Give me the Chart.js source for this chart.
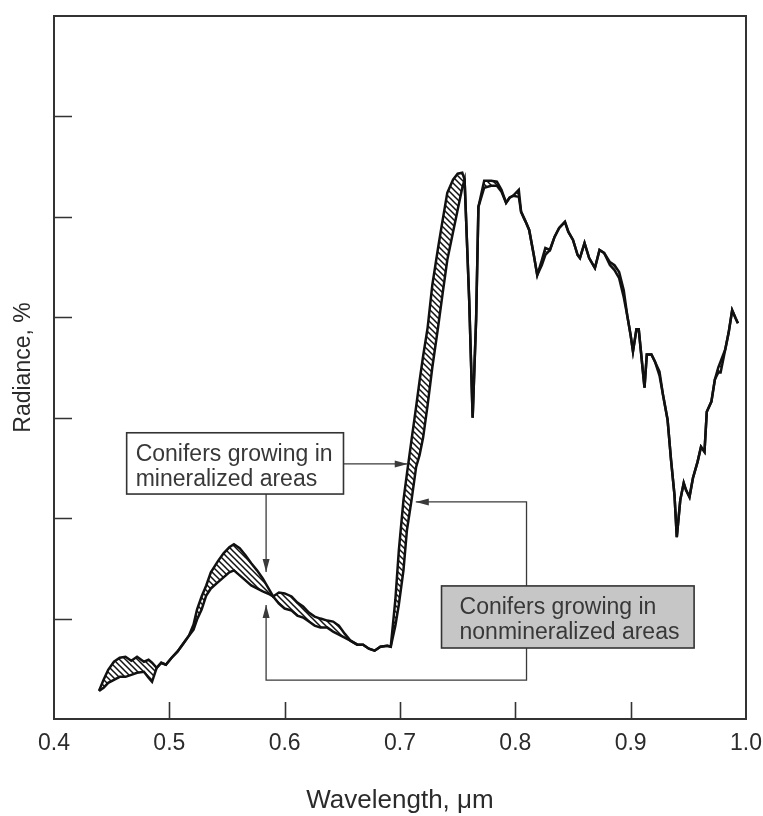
<!DOCTYPE html>
<html>
<head>
<meta charset="utf-8">
<script src="https://cdn.jsdelivr.net/npm/chart.js@4.4.1/dist/chart.umd.min.js"></script>
<style>
  html, body { margin: 0; padding: 0; background: #fff; }
  canvas { display: block; }
</style>
</head>
<body>
<canvas id="spectrum" width="763" height="816"></canvas>
<script>
// wavelength in µm, radiance in plot units (one unit per inner tick)
const wavelength = [
  0.439, 0.443, 0.447, 0.452, 0.457, 0.462, 0.467, 0.472, 0.478, 0.482,
  0.485, 0.489, 0.493, 0.497, 0.502, 0.507, 0.512, 0.517, 0.521, 0.524,
  0.528, 0.532, 0.536, 0.542, 0.547, 0.552, 0.556, 0.561, 0.566, 0.571,
  0.576, 0.581, 0.587, 0.590, 0.595, 0.600, 0.606, 0.611, 0.616, 0.621,
  0.626, 0.631, 0.637, 0.642, 0.647, 0.652, 0.657, 0.663, 0.668, 0.673,
  0.678, 0.683, 0.689, 0.692, 0.696, 0.699, 0.703, 0.706, 0.710, 0.714,
  0.717, 0.720, 0.724, 0.728, 0.733, 0.737, 0.741, 0.746, 0.750, 0.754,
  0.756, 0.760, 0.763, 0.766, 0.768, 0.773, 0.779, 0.784, 0.788, 0.792,
  0.795, 0.798, 0.803, 0.805, 0.809, 0.812, 0.816, 0.819, 0.823, 0.826,
  0.830, 0.834, 0.838, 0.843, 0.846, 0.850, 0.854, 0.856, 0.860, 0.864,
  0.869, 0.873, 0.877, 0.882, 0.886, 0.890, 0.894, 0.897, 0.900, 0.902,
  0.905, 0.907, 0.910, 0.912, 0.914, 0.918, 0.921, 0.925, 0.928, 0.932,
  0.935, 0.938, 0.940, 0.943, 0.946, 0.948, 0.951, 0.954, 0.958, 0.961,
  0.964, 0.966, 0.970, 0.973, 0.976, 0.978, 0.982, 0.985, 0.988, 0.991,
  0.993,
]
const mineralized = [
  0.28, 0.39, 0.49, 0.57, 0.61, 0.62, 0.58, 0.62, 0.57, 0.59,
  0.56, 0.51, 0.56, 0.54, 0.61, 0.67, 0.75, 0.83, 0.94, 1.09,
  1.22, 1.33, 1.46, 1.57, 1.65, 1.71, 1.74, 1.70, 1.63, 1.55,
  1.48, 1.40, 1.28, 1.22, 1.26, 1.25, 1.22, 1.16, 1.12, 1.06,
  1.02, 1.00, 0.98, 0.97, 0.93, 0.85, 0.78, 0.74, 0.74, 0.70,
  0.68, 0.72, 0.73, 0.72, 1.19, 1.68, 2.18, 2.44, 2.78, 3.11,
  3.37, 3.61, 3.90, 4.32, 4.69, 4.97, 5.24, 5.37, 5.43, 5.44,
  5.37, 4.17, 3.00, 3.98, 5.10, 5.36, 5.36, 5.35, 5.27, 5.14,
  5.19, 5.21, 5.27, 5.05, 4.95, 4.87, 4.62, 4.42, 4.57, 4.69,
  4.67, 4.80, 4.89, 4.95, 4.85, 4.77, 4.62, 4.59, 4.74, 4.59,
  4.49, 4.67, 4.64, 4.55, 4.52, 4.45, 4.27, 4.02, 3.82, 3.66,
  3.88, 3.88, 3.53, 3.30, 3.63, 3.63, 3.56, 3.46, 3.23, 2.98,
  2.58, 2.23, 1.81, 2.18, 2.35, 2.28, 2.21, 2.40, 2.56, 2.71,
  2.66, 3.06, 3.16, 3.38, 3.50, 3.56, 3.68, 3.85, 4.07, 3.99,
  3.94,
]
const nonmineralized = [
  0.28, 0.31, 0.36, 0.39, 0.42, 0.42, 0.44, 0.46, 0.47, 0.41,
  0.37, 0.51, 0.56, 0.54, 0.61, 0.67, 0.75, 0.83, 0.89, 0.99,
  1.09, 1.23, 1.30, 1.36, 1.41, 1.46, 1.48, 1.43, 1.38, 1.33,
  1.30, 1.27, 1.24, 1.22, 1.15, 1.10, 1.08, 1.03, 1.01, 0.97,
  0.93, 0.91, 0.91, 0.87, 0.84, 0.81, 0.78, 0.74, 0.74, 0.70,
  0.68, 0.72, 0.73, 0.72, 0.93, 1.14, 1.48, 1.88, 2.18, 2.51,
  2.63, 2.80, 3.13, 3.50, 3.90, 4.24, 4.57, 4.85, 5.07, 5.29,
  5.37, 4.17, 3.00, 3.98, 5.10, 5.29, 5.31, 5.31, 5.25, 5.14,
  5.19, 5.21, 5.20, 5.05, 4.95, 4.87, 4.62, 4.42, 4.52, 4.62,
  4.67, 4.80, 4.89, 4.95, 4.85, 4.77, 4.62, 4.59, 4.74, 4.59,
  4.49, 4.67, 4.64, 4.52, 4.47, 4.39, 4.20, 4.02, 3.82, 3.66,
  3.88, 3.88, 3.53, 3.30, 3.63, 3.63, 3.56, 3.42, 3.23, 2.98,
  2.58, 2.23, 1.81, 2.18, 2.35, 2.28, 2.21, 2.40, 2.56, 2.71,
  2.66, 3.06, 3.16, 3.38, 3.45, 3.45, 3.68, 3.85, 4.07, 3.99,
  3.94,
]
const xTicks = [0.4, 0.5, 0.6, 0.7, 0.8, 0.9, 1.0]
const yTicks = [1, 2, 3, 4, 5, 6]

const FONT = `"Liberation Sans", Arial, sans-serif`
const INK = `#2b2b2b`

// diagonal hatching for the gap between the two spectra
function hatch() {
  const c = document.createElement(`canvas`)
  c.width = c.height = 6
  const g = c.getContext(`2d`)
  g.fillStyle = `#fff`
  g.fillRect(0, 0, 6, 6)
  g.strokeStyle = `#111`
  g.lineWidth = 1.5
  g.beginPath()
  g.moveTo(-1, -1); g.lineTo(7, 7)
  g.moveTo(-1, 5); g.lineTo(1, 7)
  g.moveTo(5, -1); g.lineTo(7, 1)
  g.stroke()
  return g.createPattern(c, `repeat`)
}

// callout boxes and arrows, placed in data units
const notes = {
  boxes: [
    { x0: 0.463, x1: 0.651, y0: 2.85, y1: 2.24, fill: `#fff`, pad: 9,
      lines: [`Conifers growing in`, `mineralized areas`] },
    { x0: 0.736, x1: 0.955, y0: 1.325, y1: 0.707, fill: `#c6c6c6`, pad: 18,
      lines: [`Conifers growing in`, `nonmineralized areas`] },
  ],
  arrows: [
    [[0.651, 2.54], [0.7067, 2.54]],
    [[0.5839, 2.24], [0.5839, 1.464]],
    [[0.8097, 1.325], [0.8097, 2.161], [0.7137, 2.161]],
    [[0.8097, 0.707], [0.8097, 0.388], [0.5839, 0.388], [0.5839, 1.135]],
  ],
}

const near = (a, b) => Math.abs(a - b) < 1e-6

const frame = {
  id: `frame`,
  afterDatasetsDraw(chart) {
    const { ctx, chartArea: a, scales: { x, y } } = chart
    ctx.save()
    ctx.strokeStyle = `#333`
    ctx.lineWidth = 2
    ctx.strokeRect(a.left, a.top, a.right - a.left, a.bottom - a.top)

    // inward tick marks
    ctx.lineWidth = 1.6
    ctx.beginPath()
    xTicks.forEach((v) => {
      if (near(v, x.min) || near(v, x.max)) return
      const p = Math.round(x.getPixelForValue(v)) + 0.5
      ctx.moveTo(p, a.bottom); ctx.lineTo(p, a.bottom - 17)
    })
    yTicks.forEach((v) => {
      const p = Math.round(y.getPixelForValue(v)) + 0.5
      ctx.moveTo(a.left, p); ctx.lineTo(a.left + 18, p)
    })
    ctx.stroke()

    // arrows
    ctx.strokeStyle = `#3a3a3a`
    ctx.fillStyle = `#3a3a3a`
    ctx.lineWidth = 1.3
    notes.arrows.forEach((path) => {
      const pts = path.map(([vx, vy]) => [x.getPixelForValue(vx), y.getPixelForValue(vy)])
      ctx.beginPath()
      pts.forEach(([px, py], i) => (i ? ctx.lineTo(px, py) : ctx.moveTo(px, py)))
      ctx.stroke()
      const [tx, ty] = pts[pts.length - 1]
      const [sx, sy] = pts[pts.length - 2]
      const len = Math.hypot(tx - sx, ty - sy)
      const ux = (tx - sx) / len, uy = (ty - sy) / len
      ctx.beginPath()
      ctx.moveTo(tx, ty)
      ctx.lineTo(tx - ux * 13 - uy * 3.5, ty - uy * 13 + ux * 3.5)
      ctx.lineTo(tx - ux * 13 + uy * 3.5, ty - uy * 13 - ux * 3.5)
      ctx.closePath()
      ctx.fill()
    })

    // boxes with text
    notes.boxes.forEach((b) => {
      const l = x.getPixelForValue(b.x0), r = x.getPixelForValue(b.x1)
      const t = y.getPixelForValue(b.y0), btm = y.getPixelForValue(b.y1)
      ctx.fillStyle = b.fill
      ctx.fillRect(l, t, r - l, btm - t)
      ctx.strokeStyle = `#333`
      ctx.lineWidth = 1.6
      ctx.strokeRect(l, t, r - l, btm - t)
      ctx.fillStyle = `#383838`
      ctx.font = `23px ${FONT}`
      ctx.textBaseline = `alphabetic`
      ctx.textAlign = `left`
      b.lines.forEach((s, i) => ctx.fillText(s, l + b.pad, t + 28 + i * 25))
    })
    ctx.restore()
  },
}

Chart.defaults.font.family = FONT
Chart.defaults.color = INK

const line = (label, values) => ({
  label,
  data: wavelength.map((w, i) => ({ x: w, y: values[i] })),
  borderColor: `#111`,
  borderWidth: 2.5,
  pointRadius: 0,
  tension: 0,
})

new Chart(document.querySelector(`#spectrum`), {
  type: `line`,
  data: {
    datasets: [
      { ...line(`Mineralized`, mineralized), fill: `+1`, backgroundColor: hatch() },
      { ...line(`Nonmineralized`, nonmineralized), fill: false },
    ],
  },
  options: {
    responsive: false,
    animation: false,
    layout: { padding: { top: 16, right: 17, left: 0, bottom: 0 } },
    scales: {
      x: {
        type: `linear`,
        min: 0.4,
        max: 1.0,
        afterFit: (s) => {
          s.height = 97
          // the outer labels may overhang; let the layout padding handle it
          s.paddingLeft = 0
          s.paddingRight = 0
        },
        afterBuildTicks: (s) => { s.ticks = xTicks.map((v) => ({ value: v })) },
        ticks: {
          callback: (v) => Number(v).toFixed(1),
          font: { size: 23 },
          color: INK,
          padding: 11,
          maxRotation: 0,
          autoSkip: false,
        },
        grid: { display: false, drawTicks: false },
        border: { display: false },
        title: {
          display: true,
          text: `Wavelength, μm`,
          font: { size: 26 },
          color: INK,
          padding: { top: 0, bottom: 0 },
        },
      },
      y: {
        type: `linear`,
        min: 0,
        max: 7,
        afterFit: (s) => { s.width = 54 },
        ticks: { display: false, stepSize: 1 },
        grid: { display: false, drawTicks: false },
        border: { display: false },
        title: {
          display: true,
          text: `Radiance, %`,
          font: { size: 23 },
          color: INK,
          padding: { top: 10, bottom: 0 },
        },
      },
    },
    plugins: {
      legend: { display: false },
      tooltip: { enabled: false },
      filler: { drawTime: `beforeDatasetsDraw` },
    },
  },
  plugins: [frame],
})
</script>
</body>
</html>
